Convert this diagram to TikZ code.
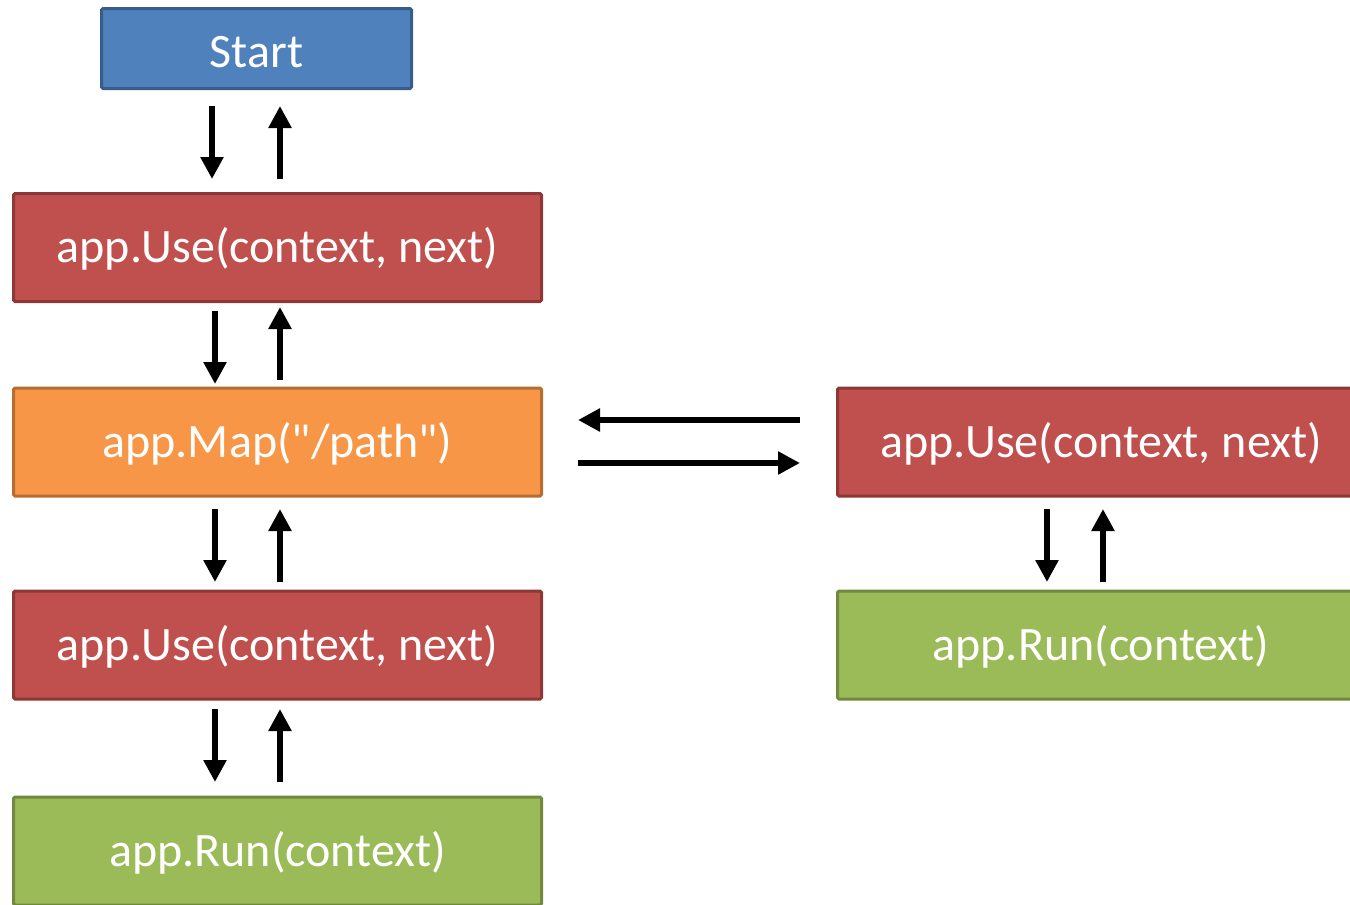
\documentclass[tikz,border=0pt]{standalone}
\usepackage{fontspec}
% plain family: no TeX ligature mapping, so " stays a straight quote
\newfontfamily\boxfont{Carlito}
\usetikzlibrary{arrows.meta}
\definecolor{bluefill}{HTML}{4F81BD}\definecolor{blueline}{HTML}{385D8A}
\definecolor{redfill}{HTML}{C0504D}\definecolor{redline}{HTML}{8C3836}
\definecolor{orangefill}{HTML}{F79646}\definecolor{orangeline}{HTML}{B66D31}
\definecolor{greenfill}{HTML}{9BBB59}\definecolor{greenline}{HTML}{71893F}
\begin{document}
\begin{tikzpicture}[x=1pt,y=-1pt,
  box/.style={rectangle, rounded corners=1.5pt, line width=3pt, outer sep=0pt,
    minimum width=528pt, minimum height=108pt, inner sep=0pt, text=white,
    text height=30pt, text depth=0pt,
    font=\boxfont\fontsize{48}{58}\selectfont},
  bluebox/.style={box, fill=bluefill, draw=blueline},
  redbox/.style={box, fill=redfill, draw=redline},
  orangebox/.style={box, fill=orangefill, draw=orangeline},
  greenbox/.style={box, fill=greenfill, draw=greenline},
  arr/.style={line width=6pt, -{Triangle[width=22pt,length=22pt]}}]
\useasboundingbox (0,0) rectangle (1350,905);
\clip (0,0) rectangle (1350,905);

% left column
\node[bluebox, minimum width=310pt, minimum height=80pt, text height=37pt] (start) at (256.5,48.5) {Start};
\node[redbox] (use1) at (277.5,247.5) {app.Use(context, next)};
\node[orangebox] (map) at (277.5,442) {app.Map("/path")};
\node[redbox] (use2) at (277.5,645) {app.Use(context, next)};
\node[greenbox] (run1) at (277.5,851) {app.Run(context)};

% branch column
\node[redbox, minimum width=527pt] (use3) at (1101,442) {app.Use(context, next)};
\node[greenbox, minimum width=527pt] (run2) at (1101,645) {app.Run(context)};

% calls down and returns up
\draw[arr] ([xshift=-44.5pt,yshift=-17.5pt]start.south) -- ([xshift=-65.5pt,yshift=14.5pt]use1.north);
\draw[arr] ([xshift=2.5pt,yshift=14.5pt]use1.north) -- ([xshift=23.5pt,yshift=-17.5pt]start.south);

\draw[arr] ([xshift=-62.5pt,yshift=-9.5pt]use1.south) -- ([xshift=-62.5pt,yshift=4pt]map.north);
\draw[arr] ([xshift=2.5pt,yshift=8pt]map.north) -- ([xshift=2.5pt,yshift=-5.5pt]use1.south);

\draw[arr] ([xshift=-62.5pt,yshift=-13pt]map.south) -- ([xshift=-62.5pt,yshift=9pt]use2.north);
\draw[arr] ([xshift=2.5pt,yshift=9pt]use2.north) -- ([xshift=2.5pt,yshift=-13pt]map.south);

\draw[arr] ([xshift=-62.5pt,yshift=-10pt]use2.south) -- ([xshift=-62.5pt,yshift=15pt]run1.north);
\draw[arr] ([xshift=2.5pt,yshift=15pt]run1.north) -- ([xshift=2.5pt,yshift=-10pt]use2.south);

\draw[arr] ([xshift=-54pt,yshift=-13pt]use3.south) -- ([xshift=-54pt,yshift=9pt]run2.north);
\draw[arr] ([xshift=2pt,yshift=9pt]run2.north) -- ([xshift=2pt,yshift=-13pt]use3.south);

% branch into the mapped pipeline and back
\draw[arr] ([xshift=-37.5pt,yshift=22pt]use3.west) -- ([xshift=36.5pt,yshift=22pt]map.east);
\draw[arr] ([xshift=36.5pt,yshift=-21pt]map.east) -- ([xshift=-37.5pt,yshift=-21pt]use3.west);
\end{tikzpicture}
\end{document}
